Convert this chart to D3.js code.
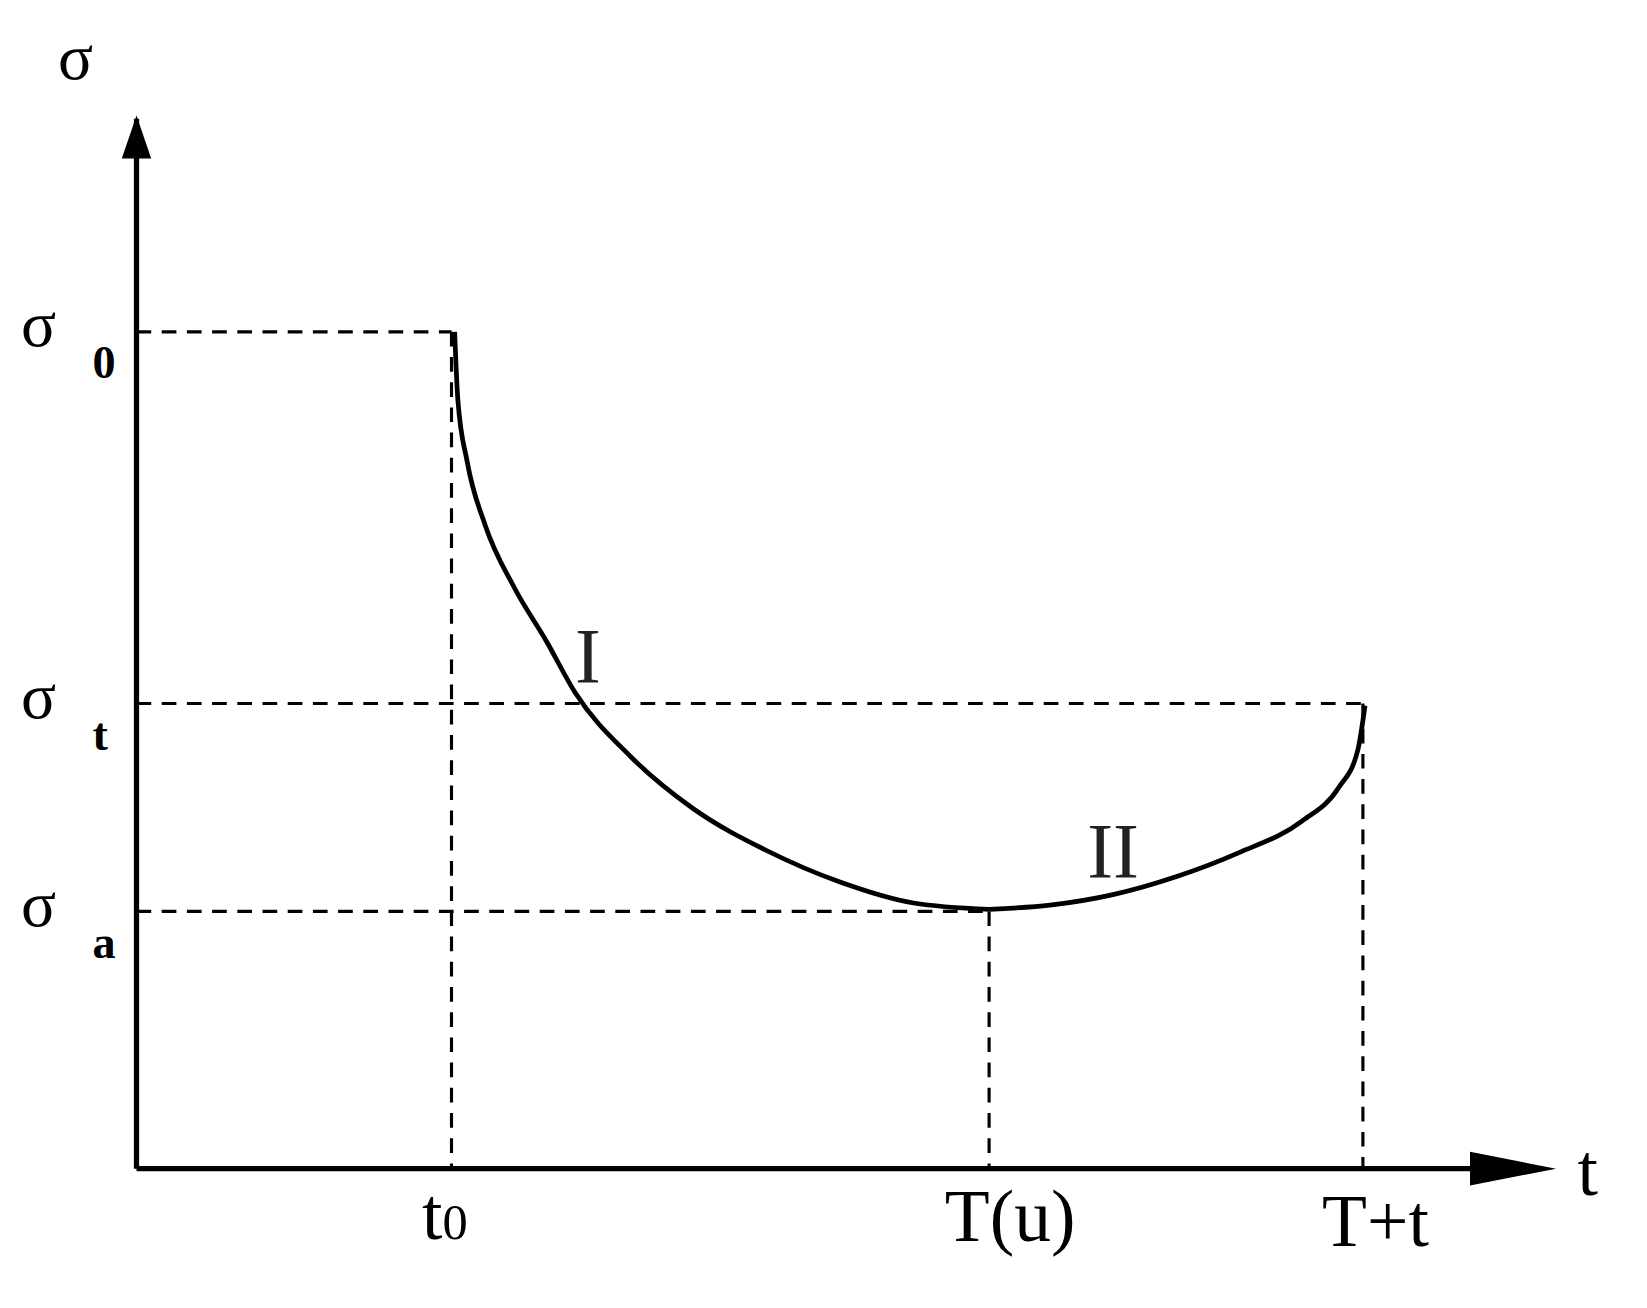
<!DOCTYPE html>
<html><head><meta charset="utf-8">
<script src="https://cdn.jsdelivr.net/npm/d3@7"></script>
<style>body{margin:0;background:#fff}text{font-family:"Liberation Serif","DejaVu Serif",serif}</style>
</head><body><svg id="c" width="1647" height="1308"></svg>
<script>
// schematic units: x = (px-130)/10, y = (1113-py)/10
const xMarks = [30, 81.2, 116.8];
const xLabels = ["t", "T(u)", "T+t"];
const yMarks = [79.7, 44.3, 24.5];
const ySubs = ["0", "t", "a"];
const stageI = [[30.3,79.7],[30.6,73.3],[31.5,67.3],[33.2,61.3],[36,55.3],[39,50.3],[41.8,45.3],[47,39.3],[53,34.3],[60,30.3],[67,27.3],[74,25.3],[81.2,24.7]];
const stageII = [[81.2,24.7],[87,25.1],[93,26.1],[99,27.8],[105,30.1],[111,33.1],[114.5,36.3],[116.3,39.8],[117,44.1]];

const svg = d3.select("#c");
const g = svg.append("g").attr("transform","scale(1.05)");
const x = d3.scaleLinear().domain([0,131]).range([130,1440]);
const y = d3.scaleLinear().domain([0,106.8]).range([1113,45]);

// dashed guides
const dash = g.append("g").attr("stroke","#000").attr("stroke-width",3).attr("stroke-dasharray","14,10");
dash.append("line").attr("x1",x(0)).attr("x2",x(xMarks[0])).attr("y1",y(yMarks[0])).attr("y2",y(yMarks[0]));
dash.append("line").attr("x1",x(0)).attr("x2",x(xMarks[2])).attr("y1",y(yMarks[1])).attr("y2",y(yMarks[1]));
dash.append("line").attr("x1",x(0)).attr("x2",x(xMarks[1])).attr("y1",y(yMarks[2])).attr("y2",y(yMarks[2]));
dash.append("line").attr("x1",x(xMarks[0])).attr("x2",x(xMarks[0])).attr("y1",y(yMarks[0])).attr("y2",y(0));
dash.append("line").attr("x1",x(xMarks[1])).attr("x2",x(xMarks[1])).attr("y1",y(yMarks[2])).attr("y2",y(0));
dash.append("line").attr("x1",x(xMarks[2])).attr("x2",x(xMarks[2])).attr("y1",y(yMarks[1])).attr("y2",y(0));

// axes
g.append("path").attr("d",`M${x(0)},${y(0)}V${y(100)}M${x(0)},${y(0)}H${x(131)}`)
  .attr("stroke","#000").attr("stroke-width",5).attr("fill","none");
g.append("path").attr("d",`M${x(0)-14},${y(100)+38}L${x(0)},${y(100)-3}L${x(0)+14},${y(100)+38}Z`);
g.append("path").attr("d",`M${x(131)-40},${y(0)-16}L${x(131)+42},${y(0)}L${x(131)-40},${y(0)+16}Z`);

// curve
const line = d3.line().x(d=>x(d[0])).y(d=>y(d[1])).curve(d3.curveMonotoneX);
[stageI, stageII].forEach(s => g.append("path").attr("d",line(s))
  .attr("fill","none").attr("stroke","#000").attr("stroke-width",4.5));

// labels
const fs = 62;
g.append("text").attr("x",72).attr("y",75).attr("font-size",fs).attr("text-anchor","middle").text("σ");
yMarks.forEach((v,i)=>{
  const t = g.append("text").attr("x",20).attr("y",y(v)+14).attr("font-size",fs);
  t.append("tspan").text("σ");
  t.append("tspan").attr("x",88).attr("dy",30).attr("font-size",44).attr("font-weight","bold").text(ySubs[i]);
});
const t0 = g.append("text").attr("x",x(xMarks[0])-28).attr("y",1180).attr("font-size",70);
t0.append("tspan").text("t");
t0.append("tspan").attr("font-size",48).attr("dy",0).text("0");
g.append("text").attr("x",x(xMarks[1])+20).attr("y",1182).attr("font-size",70).attr("text-anchor","middle").text(xLabels[1]);
g.append("text").attr("x",x(xMarks[2])+12).attr("y",1187).attr("font-size",70).attr("text-anchor","middle").text(xLabels[2]);
g.append("text").attr("x",1512).attr("y",1138).attr("font-size",70).attr("text-anchor","middle").text("t");
g.append("text").attr("x",x(43)).attr("y",650).attr("font-size",74).attr("text-anchor","middle").attr("fill","#222").text("I");
g.append("text").attr("x",x(93)).attr("y",835).attr("font-size",74).attr("text-anchor","middle").attr("fill","#222").text("II");
</script></body></html>
